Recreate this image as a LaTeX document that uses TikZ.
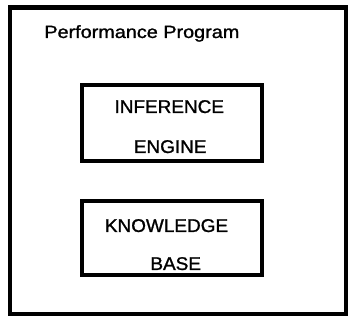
\documentclass[tikz,border=0pt]{standalone}
\usepackage{fontspec}
\setmainfont{Liberation Sans}
\newfontfamily\diagfont{Liberation Sans}[FakeBold=1.2]
\begin{document}
\begin{tikzpicture}[x=0.92pt,y=-1pt,
  frame/.style={draw=black,line width=4.2pt},
  module/.style={draw=black,line width=3.8pt},
  lbl/.style={inner sep=0pt,anchor=base,font=\diagfont\fontsize{18.4pt}{20pt}\selectfont},
  title/.style={inner sep=0pt,anchor=base west,font=\diagfont\fontsize{17.7pt}{20pt}\selectfont}]
  \useasboundingbox (0,0) rectangle (387,320);
  % outer program frame
  \draw[frame] (11,7.5) rectangle (376,314);
  \node[title] (prog) at (48,38) {\scalebox{1.12}[1]{Performance Program}};
  % inference engine
  \draw[module] (89,85) rectangle (285,161);
  \node[lbl] (ie1) at (184,113) {\scalebox{1.03}[1]{INFERENCE}};
  \node[lbl] (ie2) at (185,153) {\scalebox{1.03}[1]{ENGINE}};
  % knowledge base
  \draw[module] (89,201) rectangle (285,275);
  \node[lbl] (kb1) at (181,232) {\scalebox{1.03}[1]{KNOWLEDGE}};
  \node[lbl] (kb2) at (191,270) {\scalebox{1.03}[1]{BASE}};
\end{tikzpicture}
\end{document}
